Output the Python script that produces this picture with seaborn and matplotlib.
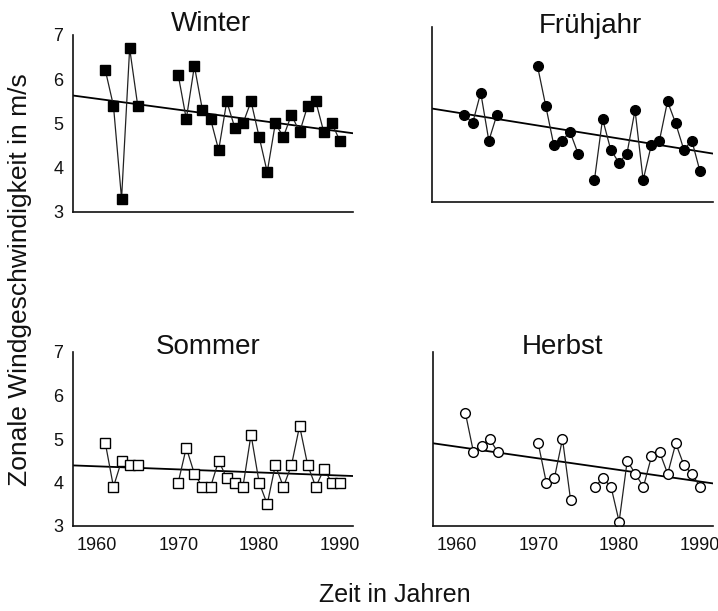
import numpy as np
import pandas as pd
import matplotlib.pyplot as plt
import seaborn as sns

# Jahre: 1961-1965 und 1970-1990 (Lücke 1966-1969)
years = [1961, 1962, 1963, 1964, 1965] + list(range(1970, 1991))

winter = [6.2, 5.4, 3.3, 6.7, 5.4,
          6.1, 5.1, 6.3, 5.3, 5.1, 4.4, 5.5, 4.9, 5.0, 5.5, 4.7,
          3.9, 5.0, 4.7, 5.2, 4.8, 5.4, 5.5, 4.8, 5.0, 4.6]
fruehjahr = [5.0, 4.8, 5.5, 4.4, 5.0,
             6.1, 5.2, 4.3, 4.4, 4.6, 4.1, np.nan, 3.5, 4.9, 4.2, 3.9,
             4.1, 5.1, 3.5, 4.3, 4.4, 5.3, 4.8, 4.2, 4.4, 3.7]
sommer = [4.9, 3.9, 4.5, 4.4, 4.4,
          4.0, 4.8, 4.2, 3.9, 3.9, 4.5, 4.1, 4.0, 3.9, 5.1, 4.0,
          3.5, 4.4, 3.9, 4.4, 5.3, 4.4, 3.9, 4.3, 4.0, 4.0]
herbst = [5.6, 4.7, 4.85, 5.0, 4.7,
          4.9, 4.0, 4.1, 5.0, 3.6, np.nan, np.nan, 3.9, 4.1, 3.9, 3.1,
          4.5, 4.2, 3.9, 4.6, 4.7, 4.2, 4.9, 4.4, 4.2, 3.9]

titles = ['Winter', 'Frühjahr', 'Sommer', 'Herbst']


def to_frame(vals):
    df = pd.DataFrame({'Jahr': years, 'Wert': vals}).dropna()
    # neue Linie nach jeder Lücke
    df['Abschnitt'] = (df['Jahr'].diff() != 1).cumsum()
    return df


sns.set_style('white')
plt.rcParams['font.family'] = ['Liberation Sans', 'DejaVu Sans']
plt.rcParams['text.color'] = '#111111'

W, H = 718, 611
fig = plt.figure(figsize=(W / 100, H / 100), dpi=100)


def px_axes(x0, y0, x1, y1):
    return fig.add_axes([x0 / W, 1 - y1 / H, (x1 - x0) / W, (y1 - y0) / H])


# (Daten, Achsen-Box in Pixel, Marker, Füllfarbe, Titelposition)
panels = [
    (winter, (73, 35, 353, 212), 's', 'black', (211, 31)),
    (fruehjahr, (432, 27, 713, 202), 'o', 'black', (590, 33)),
    (sommer, (73, 352, 353, 526), 's', 'white', (208, 354)),
    (herbst, (433, 352, 713, 526), 'o', 'white', (563, 354)),
]

for i, (vals, box, marker, face, tpos) in enumerate(panels):
    ax = px_axes(*box)
    ax.set_xlim(1957, 1991.6)
    ax.set_ylim(3, 7)
    df = to_frame(vals)

    sns.regplot(data=df, x='Jahr', y='Wert', ax=ax, scatter=False, ci=None,
                truncate=False, color='black', line_kws={'lw': 1.3})
    sns.lineplot(data=df, x='Jahr', y='Wert', units='Abschnitt', estimator=None,
                 ax=ax, color='#222222', lw=0.9, marker=marker, markersize=7,
                 markerfacecolor=face, markeredgecolor='black', markeredgewidth=1)

    ax.set_xlim(1957, 1991.6)
    ax.set_ylim(3, 7)
    ax.set_xlabel('')
    ax.set_ylabel('')
    ax.set_xticks([1960, 1970, 1980, 1990])
    ax.set_xticks([1965, 1975, 1985], minor=True)
    ax.set_yticks([3, 4, 5, 6, 7])
    ax.set_yticks([3.5, 4.5, 5.5, 6.5], minor=True)
    ax.tick_params(which='both', direction='in', width=1, colors='#111111',
                   labelsize=13)
    ax.tick_params(axis='x', pad=8)
    ax.tick_params(axis='y', pad=7)
    ax.tick_params(which='major', length=4)
    ax.tick_params(which='minor', length=2)
    ax.tick_params(labelleft=(i % 2 == 0), labelbottom=(i >= 2))
    sns.despine(ax=ax)
    for s in ['left', 'bottom']:
        ax.spines[s].set_linewidth(1.2)
        ax.spines[s].set_color('#111111')

    fig.text(tpos[0] / W, 1 - tpos[1] / H, titles[i], ha='center',
             va='baseline', fontsize=20)

fig.text(20 / W, 1 - 280 / H, 'Zonale Windgeschwindigkeit in m/s',
         rotation=90, ha='center', va='center', fontsize=19)
fig.text(395 / W, 1 - 595 / H, 'Zeit in Jahren', ha='center', va='center',
         fontsize=18)

fig.savefig('out.png', dpi=100)
